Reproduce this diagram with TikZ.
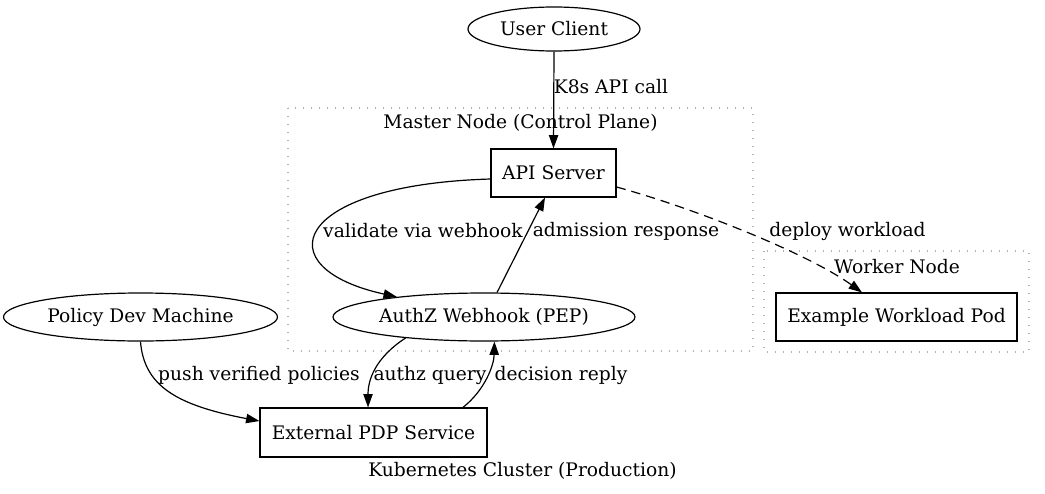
\documentclass[tikz,border=0pt]{standalone}
\usepackage{fontspec}
\setmainfont{DejaVu Serif}
\usetikzlibrary{shapes.geometric,arrows.meta}
\begin{document}
\begin{tikzpicture}[x=0.75pt,y=-0.75pt,
  every node/.style={font=\fontsize{14}{16}\selectfont},
  ell/.style={draw,ellipse,inner sep=0pt,line width=0.9pt},
  box/.style={draw,rectangle,inner sep=0pt,line width=0.9pt},
  edge/.style={line width=0.9pt,-{Triangle[length=10pt,width=7pt]}},
  cluster/.style={draw=black!30,line width=1pt,dash pattern=on 1pt off 5pt},
  lbl/.style={inner sep=0pt}]
\useasboundingbox (0,0) rectangle (1045,493);
% clusters
\draw[cluster] (288,108) rectangle (753,351);
\draw[cluster] (764,251) rectangle (1029,352);
\node[lbl] (mlab) at (520.5,123) {Master Node (Control Plane)};
\node[lbl] (wlab) at (897,267) {Worker Node};
\node[lbl] (klab) at (522.5,471) {Kubernetes Cluster (Production)};
% nodes
\node[ell,minimum width=129pt,minimum height=33pt] (user) at (554,29) {User Client};
\node[box,minimum width=93.75pt,minimum height=36pt] (api) at (553.5,173) {API Server};
\node[ell,minimum width=226.5pt,minimum height=36pt] (authz) at (484,317) {AuthZ Webhook (PEP)};
\node[box,minimum width=180.75pt,minimum height=36pt] (pod) at (896.5,317) {Example Workload Pod};
\node[ell,minimum width=205.5pt,minimum height=36pt] (policy) at (140.5,317) {Policy Dev Machine};
\node[box,minimum width=170.25pt,minimum height=36.75pt] (pdp) at (373.5,432.5) {External PDP Service};
% edges
\draw[edge] (user.south) -- (api.north);
\node[lbl] (l1) at (611,87) {K8s API call};
\draw[edge] ([yshift=-4.5pt]api.west) .. controls (290,185) and (265,268) .. (authz.167);
\node[lbl] (l2) at (423,231) {validate via webhook};
\draw[edge] (authz.62) -- ([xshift=-6.4pt]api.south);
\node[lbl] (l3) at (626,231) {admission response};
\draw[edge,dash pattern=on 7pt off 4.5pt] ([yshift=-10.5pt]api.east) .. controls (700,210) and (810,255) .. ([xshift=-25.9pt]pod.north);
\node[lbl] (l4) at (847.5,231) {deploy workload};
\draw[edge] (policy.south) .. controls (144,385) and (175,405) .. ([yshift=8.6pt]pdp.west);
\node[lbl] (l5) at (259,375) {push verified policies};
\draw[edge] (authz.195) .. controls (375,358) and (368,380) .. ([xshift=-4.1pt]pdp.north);
\node[lbl] (l6) at (430,375) {authz query};
\draw[edge] ([xshift=67.1pt]pdp.north) .. controls (485,390) and (494,365) .. (authz.293);
\node[lbl] (l7) at (561,375) {decision reply};
\end{tikzpicture}
\end{document}
